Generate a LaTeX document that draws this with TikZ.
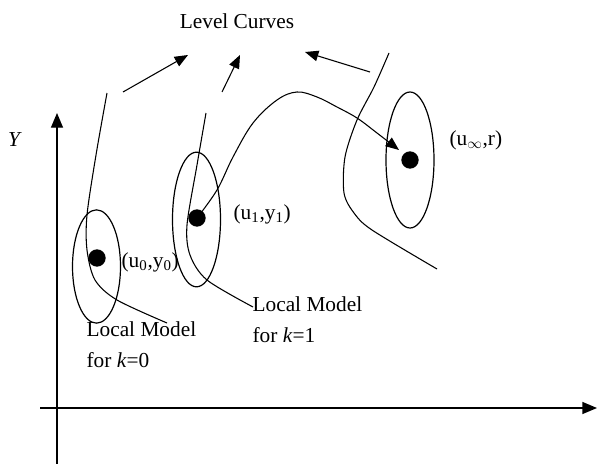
\documentclass[tikz,border=0pt]{standalone}
\usepackage{fontspec}
\setmainfont{Liberation Serif}
\usetikzlibrary{arrows.meta, positioning, shapes.geometric}
\tikzset{
  axisline/.style={line width=1pt, -{Triangle[length=11pt, width=9pt]}},
  lvl/.style={line width=0.8pt},
  dir/.style={line width=0.8pt, -{Triangle[length=10pt, width=8pt]}},
  dot/.style={circle, fill=black, inner sep=0pt, minimum size=13pt},
  region/.style={ellipse, draw, line width=0.9pt, inner sep=0pt,
    minimum width=36pt},
  lbl/.style={font=\fontsize{16}{23}\selectfont, inner sep=1pt},
}

\begin{document}
\begin{tikzpicture}[x=0.75pt, y=-0.75pt]
  \useasboundingbox (0,0) rectangle (597,464);
  % axes
  \coordinate (yfoot) at (57,464);
  \coordinate (ytip) at (57,113);
  \coordinate (xfoot) at (40,408);
  \coordinate (xtip) at (597,408);
  \draw[axisline] (yfoot) -- (ytip);
  \draw[axisline] (xfoot) -- (xtip);
  \node[lbl, font=\fontsize{16}{18}\selectfont\itshape] (ylab) at (14,140) {Y};

  % local models
  \node[region, minimum height=85pt] (ell0) at (96.5,266.5) {};
  \node[region, minimum height=101pt] (ell1) at (196.5,219.5) {};
  \node[region, minimum height=102pt] (ell2) at (410,160) {};
  \node[dot] (dot0) at (97,258) {};
  \node[dot] (dot1) at (197,218) {};
  \node[dot] (dot2) at (410,160) {};

  \node[lbl, anchor=west] (p0) at (120,262) {(u\textsubscript{0},y\textsubscript{0})};
  \node[lbl, anchor=west] (p1) at (232,214) {(u\textsubscript{1},y\textsubscript{1})};
  \node[lbl, anchor=west] (p2) at (448,140) {(u\textsubscript{$\infty$},r)};

  \node[lbl, anchor=north west, align=left] (lm0) at (85,320)
    {Local Model\\for \textit{k}=0};
  \node[lbl, anchor=north west, align=left] (lm1) at (251,295)
    {Local Model\\for \textit{k}=1};

  % level curves
  \node[lbl] (title) at (237,21) {Level Curves};
  \coordinate (c0) at (167,323);
  \coordinate (c1) at (253,307);
  \draw[lvl] plot[smooth, tension=0.5] coordinates
    {(107,93) (96,155) (87,215) (87,250) (95,280) (117,300) (c0)};
  \draw[lvl] plot[smooth, tension=0.5] coordinates
    {(206,113) (197,165) (187,225) (190,255) (207,280) (c1)};
  \draw[lvl] plot[smooth, tension=0.5] coordinates
    {(389,53) (374,87) (357,120) (345,157) (344,193) (354,213) (372,230) (437,269)};

  \coordinate (a0) at (123,92);
  \coordinate (a0e) at (188,55);
  \coordinate (a1) at (222,92);
  \coordinate (a1e) at (240,55);
  \coordinate (a2) at (370,72);
  \coordinate (a2e) at (305,52);
  \draw[dir] (a0) -- (a0e);
  \draw[dir] (a1) -- (a1e);
  \draw[dir] (a2) -- (a2e);

  % trajectory
  \coordinate (traj) at (399,150);
  \draw[dir] plot[smooth, tension=0.6] coordinates
    {(dot1.center) (217,190) (233,157) (253,123) (277,100) (297,92)
     (317,97) (337,107) (357,118) (377,133) (traj)};
\end{tikzpicture}
\end{document}
